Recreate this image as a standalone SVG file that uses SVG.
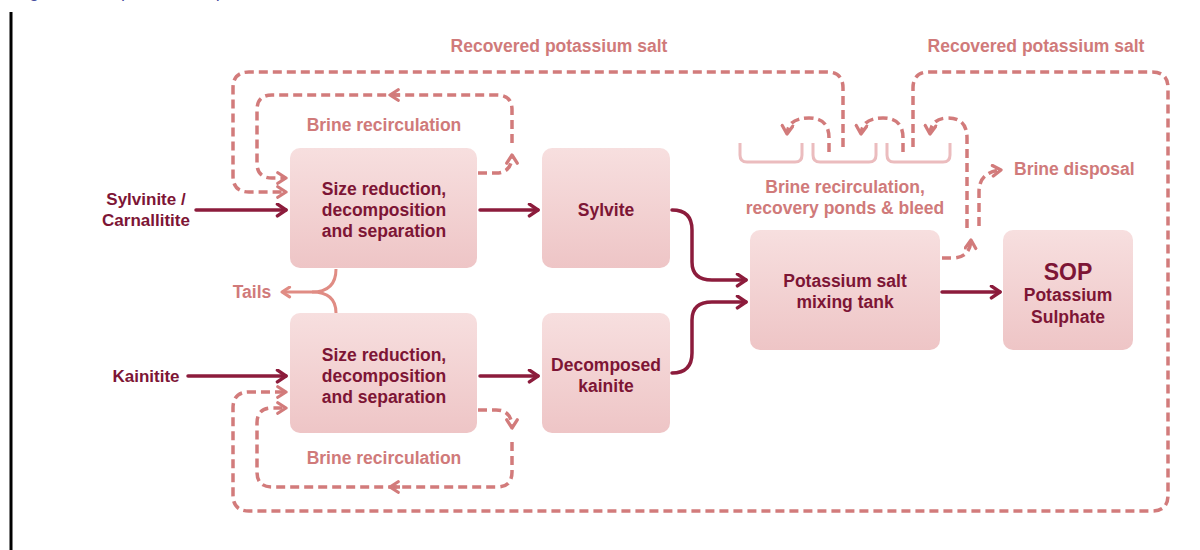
<svg xmlns="http://www.w3.org/2000/svg" width="1200" height="550" viewBox="0 0 1200 550">
<style>
.box{stroke:none}
.bt{font-family:"Liberation Sans",Arial,sans-serif;font-weight:bold;font-size:17.5px;fill:#7d1535;text-anchor:middle}
.it{font-family:"Liberation Sans",Arial,sans-serif;font-weight:bold;font-size:17px;fill:#7d1535;text-anchor:middle}
.lt{font-family:"Liberation Sans",Arial,sans-serif;font-weight:bold;font-size:17.5px;fill:#d07a7a;text-anchor:middle}
.solid{fill:none;stroke:#8c1c3c;stroke-width:3.5;stroke-linecap:round;stroke-linejoin:round}
.dash{fill:none;stroke:#d27b7b;stroke-width:3.5;stroke-dasharray:9 5}
.tail{fill:none;stroke:#e08c84;stroke-width:3}
.tray{fill:none;stroke:#ebbcbe;stroke-width:3}
</style>
<defs>
<linearGradient id="g" x1="0" y1="0" x2="0" y2="1">
<stop offset="0" stop-color="#f7dfdf"/>
<stop offset="1" stop-color="#eec5c6"/>
</linearGradient>
<marker id="ad" viewBox="0 0 12 12" refX="10" refY="6" markerWidth="14" markerHeight="14" markerUnits="userSpaceOnUse" orient="auto">
<path d="M3,1.5 L10,6 L3,10.5" fill="none" stroke="#d27b7b" stroke-width="2.8" stroke-dasharray="none" stroke-linecap="round" stroke-linejoin="round"/>
</marker>
<marker id="at" viewBox="0 0 12 12" refX="10" refY="6" markerWidth="13" markerHeight="13" markerUnits="userSpaceOnUse" orient="auto">
<path d="M3,1.5 L10,6 L3,10.5" fill="none" stroke="#e08c84" stroke-width="2.8" stroke-linecap="round" stroke-linejoin="round"/>
</marker>
<marker id="as" viewBox="0 0 14 14" refX="12" refY="7" markerWidth="15" markerHeight="15" markerUnits="userSpaceOnUse" orient="auto">
<path d="M4,1.5 L12,7 L4,12.5" fill="none" stroke="#8c1c3c" stroke-width="3.2" stroke-linecap="round" stroke-linejoin="round"/>
</marker>
</defs>
<rect width="1200" height="550" fill="#ffffff"/>
<text x="14" y="-3" font-family="Liberation Sans,Arial,sans-serif" font-size="18" fill="#4b4fa0">Figure 1: Simplified SOP process flowsheet</text>
<line x1="11" y1="12" x2="11" y2="550" stroke="#000" stroke-width="3"/>

<g id="connectors">
<path class="solid" d="M196,210 H286" marker-end="url(#as)"/>
<path class="solid" d="M188,376 H286" marker-end="url(#as)"/>
<path class="solid" d="M480,210 H538" marker-end="url(#as)"/>
<path class="solid" d="M480,376 H538" marker-end="url(#as)"/>
<path class="solid" d="M672,210 Q692,210 692,230 V262 Q692,280 712,280 H746" marker-end="url(#as)"/>
<path class="solid" d="M672,373 Q692,373 692,353 V320 Q692,302 712,302 H746" marker-end="url(#as)"/>
<path class="solid" d="M942,292 H1000" marker-end="url(#as)"/>
<path class="tail" d="M336,269 Q336,292 312,292 H282" marker-end="url(#at)"/>
<path class="tail" d="M336,313 Q336,292 312,292"/>
<path class="dash" d="M843,147 V88 Q843,72 827,72 H249 Q233,72 233,88 V176 Q233,192 249,192 H286" marker-end="url(#ad)"/>
<path class="dash" d="M478,173 H496 Q512,173 512,155" marker-end="url(#ad)"/>
<path class="dash" d="M512,143 V110 Q512,95 497,95 H272 Q257,95 257,110 V163 Q257,178 272,178 H286" marker-end="url(#ad)"/>
<path class="dash" d="M400,95 H390" stroke-dasharray="none" marker-end="url(#ad)"/>
<path class="dash" d="M478,410 H496 Q512,410 512,428" marker-end="url(#ad)"/>
<path class="dash" d="M512,442 V472 Q512,487 497,487 H272 Q257,487 257,472 V423 Q257,408 272,408 H286" marker-end="url(#ad)"/>
<path class="dash" d="M400,487 H390" stroke-dasharray="none" marker-end="url(#ad)"/>
<path class="dash" d="M913,147 V88 Q913,72 929,72 H1152 Q1168,72 1168,88 V495 Q1168,511 1152,511 H249 Q233,511 233,495 V408 Q233,392 249,392 H286" marker-end="url(#ad)"/>
<path class="dash" d="M942,258 H952 Q970,258 971,240" marker-end="url(#ad)"/>
<path class="dash" d="M967,228 V138 Q967,118 948,118 Q931,118 930,134" marker-end="url(#ad)"/>
<path class="dash" d="M903,152 V138 Q903,118 883,118 Q862,118 861,134" marker-end="url(#ad)"/>
<path class="dash" d="M829,152 V138 Q829,118 809,118 Q788,118 787,134" marker-end="url(#ad)"/>
<path class="dash" d="M979,226 V192 Q979,172 1001,170" marker-end="url(#ad)"/>
</g>

<g id="ponds">
<path class="tray" d="M740,143 V155 Q740,162 747,162 H795 Q802,162 802,155 V143"/>
<path class="tray" d="M813,143 V155 Q813,162 820,162 H869 Q876,162 876,155 V143"/>
<path class="tray" d="M887,143 V155 Q887,162 894,162 H943 Q950,162 950,155 V143"/>
</g>

<g id="labels">
<text class="lt" x="559" y="52">Recovered potassium salt</text>
<text class="lt" x="1036" y="52">Recovered potassium salt</text>
<text class="lt" x="384" y="131">Brine recirculation</text>
<text class="lt" x="384" y="464">Brine recirculation</text>
<text class="lt" x="845" y="193">Brine recirculation,</text>
<text class="lt" x="845" y="214">recovery ponds &amp; bleed</text>
<text class="lt" x="1014" y="175" style="text-anchor:start">Brine disposal</text>
<text class="lt" x="252" y="298">Tails</text>
<text class="it" x="146" y="205">Sylvinite /</text>
<text class="it" x="146" y="226">Carnallitite</text>
<text class="it" x="146" y="382">Kainitite</text>
</g>

<g id="node-process-top">
<rect class="box" x="290" y="148" width="187" height="120" rx="10" fill="url(#g)"/>
<text class="bt" x="384" y="195">Size reduction,</text>
<text class="bt" x="384" y="216">decomposition</text>
<text class="bt" x="384" y="237">and separation</text>
</g>
<g id="node-sylvite">
<rect class="box" x="542" y="148" width="128" height="120" rx="10" fill="url(#g)"/>
<text class="bt" x="606" y="216">Sylvite</text>
</g>
<g id="node-process-bottom">
<rect class="box" x="290" y="313" width="187" height="120" rx="10" fill="url(#g)"/>
<text class="bt" x="384" y="361">Size reduction,</text>
<text class="bt" x="384" y="382">decomposition</text>
<text class="bt" x="384" y="403">and separation</text>
</g>
<g id="node-decomposed-kainite">
<rect class="box" x="542" y="313" width="128" height="120" rx="10" fill="url(#g)"/>
<text class="bt" x="606" y="371">Decomposed</text>
<text class="bt" x="606" y="392">kainite</text>
</g>
<g id="node-mixing-tank">
<rect class="box" x="750" y="230" width="190" height="120" rx="10" fill="url(#g)"/>
<text class="bt" x="845" y="287">Potassium salt</text>
<text class="bt" x="845" y="308">mixing tank</text>
</g>
<g id="node-sop">
<rect class="box" x="1003" y="230" width="130" height="120" rx="10" fill="url(#g)"/>
<text class="bt" x="1068" y="280" style="font-size:23px">SOP</text>
<text class="bt" x="1068" y="301">Potassium</text>
<text class="bt" x="1068" y="323">Sulphate</text>
</g>
</svg>
